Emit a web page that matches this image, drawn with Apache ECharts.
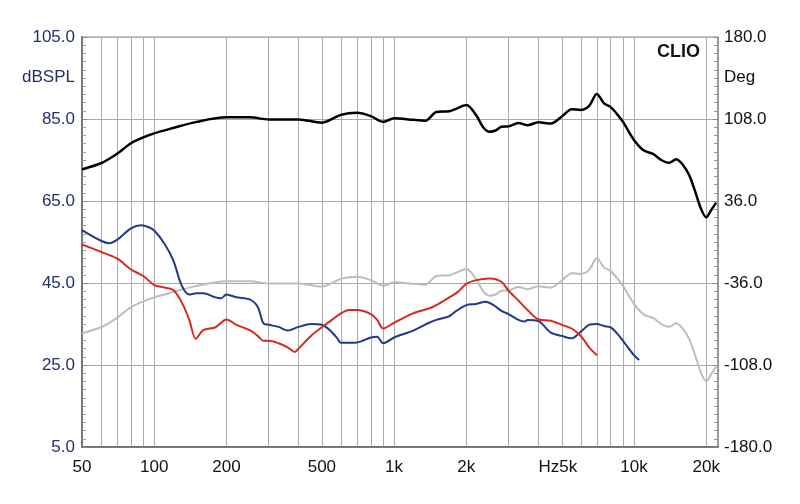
<!DOCTYPE html>
<html>
<head>
<meta charset="utf-8">
<script src="https://cdn.jsdelivr.net/npm/echarts@6/dist/echarts.min.js"></script>
<style>html,body{margin:0;padding:0;background:#fff;}#c{width:800px;height:504px;}</style>
</head>
<body>
<div id="c"></div>
<script>
// Frequency response (black), same response offset (gray), distortion curves (blue, red)
const blackFreq = [50,60,65,70,80,90,100,120,150,200,250,300,400,500,600,700,800,900,1000,1200,1350,1500,1700,1830,2000,2200,2350,2500,2650,2800,3000,3300,3600,4000,4500,5000,5500,6000,6500,7000,7500,8000,8500,9000,10000,11000,12000,13000,14000,15000,16000,17000,18000,19000,20000,21000,22000];
const blackVals = [72.7,74.2,75.3,76.5,79.1,80.5,81.5,82.8,84.3,85.4,85.4,84.9,84.9,84.1,86.0,86.5,85.7,84.3,85.2,84.8,84.6,86.7,86.9,87.6,88.4,85.9,83.0,81.9,82.2,83.1,83.2,84.0,83.5,84.2,83.9,85.6,87.4,87.2,88.2,91.1,88.8,87.9,86.2,84.3,79.9,77.3,76.5,75.0,74.3,75.2,73.8,71.3,67.3,63.2,61.0,62.8,64.6];

const grayFreq = [50,60,65,70,80,90,100,120,150,200,250,300,400,500,600,700,800,900,1000,1200,1350,1500,1700,1830,2000,2200,2350,2500,2650,2800,3000,3300,3600,4000,4500,5000,5500,6000,6500,7000,7500,8000,8500,9000,10000,11000,12000,13000,14000,15000,16000,17000,18000,19000,20000,21000,22000];
const grayVals = [32.7,34.2,35.3,36.5,39.1,40.5,41.5,42.8,44.3,45.4,45.4,44.9,44.9,44.1,46.0,46.5,45.7,44.3,45.2,44.8,44.6,46.7,46.9,47.6,48.4,45.9,43.0,41.9,42.2,43.1,43.2,44.0,43.5,44.2,43.9,45.6,47.4,47.2,48.2,51.1,48.8,47.9,46.2,44.3,39.9,37.3,36.5,35.0,34.3,35.2,33.8,31.3,27.3,23.2,21.0,22.8,24.6];

const blueFreq = [50,60,65,70,80,88,95,100,110,120,130,140,150,160,180,190,200,220,250,270,285,300,330,360,400,450,500,540,580,600,700,800,850,900,1000,1200,1400,1500,1700,1800,2000,2200,2400,2600,2800,3000,3300,3500,3600,4000,4500,5000,5500,6000,6500,7000,7500,8000,8500,9000,10000,10500];
const blueVals = [57.9,55.3,54.7,55.5,58.3,59.1,58.6,57.8,54.7,50.6,44.5,42.2,42.5,42.5,41.5,41.3,42.2,41.5,41.0,39.2,35.2,34.8,34.3,33.4,34.3,35.0,34.8,33.5,31.5,30.4,30.5,31.7,31.9,30.3,31.7,33.4,35.3,36.0,36.9,38.0,39.6,39.9,40.4,39.6,38.2,37.4,36.0,35.6,36.0,35.7,32.9,32.1,31.5,33.1,34.8,35.0,34.5,34.2,32.7,30.9,27.4,26.2];

const redFreq = [50,60,70,80,90,100,110,120,130,140,149,160,180,200,220,250,270,285,300,330,360,385,400,450,500,550,600,650,700,800,850,900,1000,1200,1400,1500,1700,1850,2000,2200,2500,2800,3000,3300,3600,4000,4500,5000,5500,6000,6500,7000];
const redVals = [54.4,52.6,51.0,48.3,46.7,44.5,43.9,43.3,40.4,36.0,31.4,33.5,34.2,36.1,34.8,33.5,32.1,30.9,30.9,30.3,29.3,28.2,29.0,32.1,34.2,36.0,37.6,38.4,38.4,37.4,36.0,33.9,35.3,37.6,38.8,39.6,41.5,42.9,44.8,45.7,46.1,45.3,43.1,40.7,38.4,36.1,35.8,34.8,33.9,32.1,29.3,27.4];

const xGridVals = [50,60,70,80,90,100,200,300,400,500,600,700,800,900,1000,2000,3000,4000,5000,6000,7000,8000,9000,10000,20000];
const xLabelVals = [50,100,200,500,1000,2000,5000,10000,20000];
const xLabelText = {50:'50',100:'100',200:'200',500:'500',1000:'1k',2000:'2k',5000:'{hz|Hz}5k{pad|}',10000:'10k',20000:'20k'};

function pairs(f, v) { return f.map((x, i) => [x, v[i]]); }

const chart = echarts.init(document.getElementById('c'), null, {renderer: 'canvas'});
const FONT = 'Liberation Sans, Arial, sans-serif';
const FS = 17;
chart.setOption({
  animation: false,
  backgroundColor: '#ffffff',
  grid: {left: 82, right: 82, top: 37, bottom: 57, show: true, borderColor: '#999', borderWidth: 1},
  xAxis: {
    type: 'log', logBase: 10, min: 50, max: 22400,
    axisLine: {show: true, onZero: false, lineStyle: {color: '#777', width: 2}},
    axisTick: {show: false, customValues: xGridVals},
    minorTick: {show: false},
    splitLine: {show: true, lineStyle: {color: '#aaa', width: 1}},
    axisLabel: {
      customValues: xLabelVals,
      formatter: v => xLabelText[Math.round(v)] || '',
      color: '#111', fontSize: FS, fontFamily: FONT, margin: 12,
      rich: {hz: {fontSize: FS, fontFamily: FONT, color: '#111'}, pad: {width: 8}}
    }
  },
  yAxis: [
    {
      type: 'value', min: 5, max: 105, interval: 20, position: 'left',
      axisLine: {show: true, onZero: false, lineStyle: {color: '#777', width: 2}},
      axisTick: {show: true, inside: true, length: 5, lineStyle: {color: '#888'}},
      minorTick: {show: true, splitNumber: 10, length: 4, lineStyle: {color: '#999'}},
      splitLine: {show: true, lineStyle: {color: '#aaa', width: 1}},
      axisLabel: {formatter: v => v.toFixed(1), color: '#22306e', fontSize: FS, fontFamily: FONT, margin: 7}
    },
    {
      type: 'value', min: -180, max: 180, interval: 72, position: 'right',
      axisLine: {show: true, onZero: false, lineStyle: {color: '#888', width: 1.5}},
      axisTick: {show: true, inside: true, length: 5, lineStyle: {color: '#888'}},
      minorTick: {show: true, splitNumber: 10, length: 4, lineStyle: {color: '#999'}},
      splitLine: {show: false},
      axisLabel: {formatter: v => v.toFixed(1), color: '#111', fontSize: FS, fontFamily: FONT, margin: 6}
    }
  ],
  graphic: [
    {type: 'text', right: 725, top: 69, style: {text: 'dBSPL', fill: '#22306e', font: FS + 'px ' + FONT}},
    {type: 'text', left: 724, top: 69, style: {text: 'Deg', fill: '#111', font: FS + 'px ' + FONT}},
    {type: 'text', right: 100, top: 43, style: {text: 'CLIO', fill: '#111', font: 'bold 18px ' + FONT}}
  ],
  series: [
    {type: 'line', name: 'gray', data: pairs(grayFreq, grayVals), showSymbol: false, smooth: 0.3, lineStyle: {color: '#bdbdbd', width: 2}, z: 2},
    {type: 'line', name: 'blue', data: pairs(blueFreq, blueVals), showSymbol: false, smooth: 0.3, lineStyle: {color: '#20398a', width: 2}, z: 3},
    {type: 'line', name: 'red', data: pairs(redFreq, redVals), showSymbol: false, smooth: 0.3, lineStyle: {color: '#d42a22', width: 2}, z: 4},
    {type: 'line', name: 'black', data: pairs(blackFreq, blackVals), showSymbol: false, smooth: 0.3, lineStyle: {color: '#000', width: 2.5}, z: 5}
  ]
});
</script>
</body>
</html>
